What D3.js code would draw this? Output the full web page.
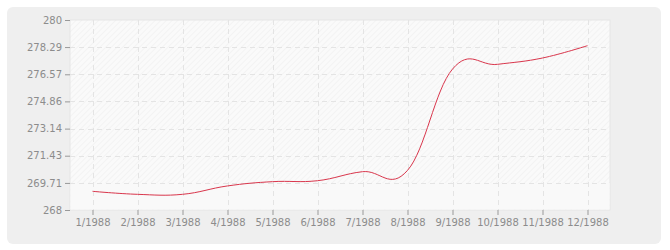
<!DOCTYPE html>
<html>
<head>
<meta charset="utf-8">
<script src="https://cdn.jsdelivr.net/npm/d3@7"></script>
<style>
  body { margin: 0; background: #fff; }
  text { font-family: "DejaVu Sans", Verdana, sans-serif; font-size: 10px; fill: #8c8c8c; }
</style>
</head>
<body>
<svg width="670" height="250"></svg>
<script>
// months and values
var months = ["1/1988", "2/1988", "3/1988", "4/1988", "5/1988", "6/1988",
              "7/1988", "8/1988", "9/1988", "10/1988", "11/1988", "12/1988"];
var values = [269.18, 268.99, 268.99, 269.52, 269.79, 269.85,
              270.42, 270.5, 276.9, 277.2, 277.6, 278.38];
var yTicks = [268, 269.71, 271.43, 273.14, 274.86, 276.57, 278.29, 280];

var margin = { top: 20, right: 60, bottom: 40, left: 70 },
    width = 670 - margin.left - margin.right,
    height = 250 - margin.top - margin.bottom;

var svg = d3.select("svg");

// outer panel
svg.append("rect")
    .attr("x", 7).attr("y", 7)
    .attr("width", 654).attr("height", 237)
    .attr("rx", 6)
    .style("fill", "#efefef");

var defs = svg.append("defs");
var pat = defs.append("pattern")
    .attr("id", "hatch")
    .attr("width", 4).attr("height", 4)
    .attr("patternUnits", "userSpaceOnUse")
    .attr("patternTransform", "rotate(45)");
pat.append("rect").attr("width", 4).attr("height", 4).style("fill", "#fafafa");
pat.append("line").attr("x1", 0).attr("y1", 0).attr("x2", 0).attr("y2", 4)
    .style("stroke", "#ececec").style("stroke-width", 1);

var g = svg.append("g").attr("transform", "translate(" + margin.left + "," + margin.top + ")");

var x = d3.scalePoint().domain(months).range([0, width]).padding(0.5);
var y = d3.scaleLinear().domain([268, 280]).range([height, 0]);

g.append("rect")
    .attr("width", width).attr("height", height)
    .style("fill", "url(#hatch)")
    .style("stroke", "#e6e6e6");

// bottom band is plain
g.append("rect")
    .attr("x", 0.5).attr("y", y(yTicks[1]))
    .attr("width", width - 1).attr("height", y(yTicks[0]) - y(yTicks[1]) - 0.5)
    .style("fill", "#f9f9f9");

// grid
g.selectAll(".hgrid").data(yTicks.slice(1, -1)).enter().append("line")
    .attr("x1", 0).attr("x2", width)
    .attr("y1", function (d) { return Math.round(y(d)) + 0.5; })
    .attr("y2", function (d) { return Math.round(y(d)) + 0.5; })
    .style("stroke", "#e4e4e4").style("stroke-dasharray", "5,4");

g.selectAll(".vgrid").data(months).enter().append("line")
    .attr("y1", 0).attr("y2", height)
    .attr("x1", function (d) { return Math.round(x(d)) + 0.5; })
    .attr("x2", function (d) { return Math.round(x(d)) + 0.5; })
    .style("stroke", "#e4e4e4").style("stroke-dasharray", "5,4");

// axes
var yAxis = g.append("g")
    .call(d3.axisLeft(y).tickValues(yTicks).tickSize(5).tickPadding(3)
      .tickFormat(function (d) { return d3.format("")(d); }));
yAxis.select(".domain").remove();
yAxis.selectAll("line").style("stroke", "#999");

var xAxis = g.append("g")
    .attr("transform", "translate(0," + height + ")")
    .call(d3.axisBottom(x).tickSize(5).tickPadding(4));
xAxis.select(".domain").remove();
xAxis.selectAll("line").style("stroke", "#999");

g.selectAll(".tick text")
    .style("font-family", "'DejaVu Sans', Verdana, sans-serif")
    .style("font-size", "10px")
    .style("fill", "#8c8c8c");

// line
var line = d3.line()
    .x(function (d, i) { return x(months[i]); })
    .y(function (d) { return y(d); })
    .curve(d3.curveCardinal.tension(-0.2));

g.append("path")
    .datum(values)
    .attr("d", line)
    .style("fill", "none")
    .style("stroke", "#d9364c")
    .style("stroke-width", 1);
</script>
</body>
</html>
